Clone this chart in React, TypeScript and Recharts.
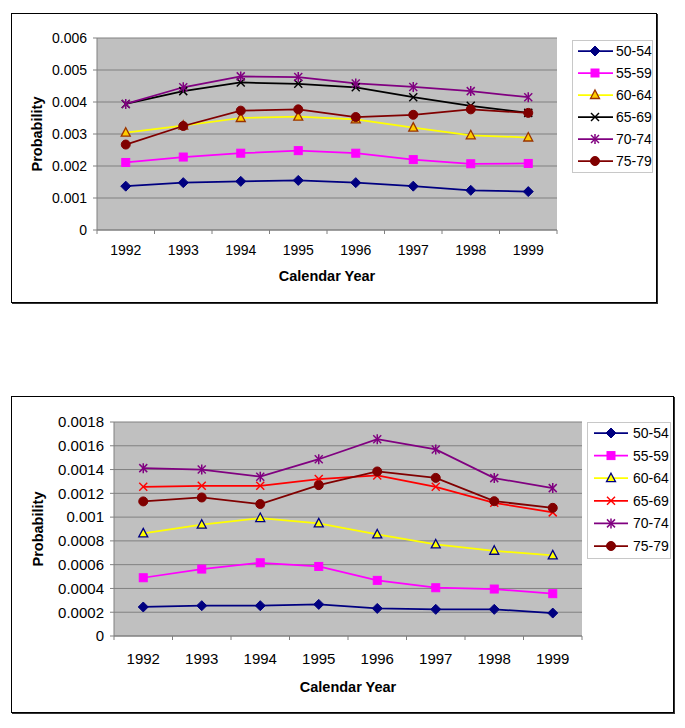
import React from 'react';
import { LineChart, Line, XAxis, YAxis, CartesianGrid, Legend } from 'recharts';

const years = ['1992', '1993', '1994', '1995', '1996', '1997', '1998', '1999'];
const seriesNames = ['50-54', '55-59', '60-64', '65-69', '70-74', '75-79'];

// Top chart values
const top5054 = [0.00137, 0.00148, 0.00152, 0.00155, 0.00148, 0.00137, 0.00124, 0.0012];
const top5559 = [0.00211, 0.00228, 0.0024, 0.00248, 0.0024, 0.0022, 0.00207, 0.00208];
const top6064 = [0.00304, 0.00326, 0.0035, 0.00354, 0.00346, 0.0032, 0.00296, 0.00289];
const top6569 = [0.00394, 0.00434, 0.00461, 0.00457, 0.00446, 0.00415, 0.00388, 0.00366];
const top7074 = [0.00394, 0.00446, 0.0048, 0.00478, 0.00458, 0.00447, 0.00434, 0.00415];
const top7579 = [0.00267, 0.00325, 0.00373, 0.00377, 0.00353, 0.0036, 0.00377, 0.00366];

// Bottom chart values
const bot5054 = [0.000244, 0.000255, 0.000255, 0.000266, 0.000232, 0.000224, 0.000224, 0.000193];
const bot5559 = [0.00049, 0.000563, 0.000616, 0.000585, 0.000468, 0.000406, 0.000395, 0.000356];
const bot6064 = [0.000863, 0.000936, 0.000992, 0.000947, 0.000854, 0.00077, 0.000717, 0.000678];
const bot6569 = [0.001255, 0.001263, 0.001263, 0.00132, 0.00135, 0.001255, 0.00112, 0.00104];
const bot7074 = [0.001412, 0.0014, 0.00134, 0.001487, 0.001655, 0.001569, 0.001328, 0.001244];
const bot7579 = [0.001132, 0.001165, 0.00111, 0.001269, 0.001384, 0.00133, 0.001134, 0.001078];

const topTicks = [0, 0.001, 0.002, 0.003, 0.004, 0.005, 0.006];
const bottomTicks = [0, 0.0002, 0.0004, 0.0006, 0.0008, 0.001, 0.0012, 0.0014, 0.0016, 0.0018];

const FONT = '"Liberation Sans", Arial, sans-serif';

type Shape = 'diamond' | 'square' | 'triangle' | 'x' | 'star' | 'circle';
interface SeriesStyle {
  name: string;
  color: string;
  shape: Shape;
  fill: string;
  stroke: string;
}

const topStyles: SeriesStyle[] = [
  { name: '50-54', color: '#000080', shape: 'diamond', fill: '#000080', stroke: '#000080' },
  { name: '55-59', color: '#FF00FF', shape: 'square', fill: '#FF00FF', stroke: '#FF00FF' },
  { name: '60-64', color: '#FFFF00', shape: 'triangle', fill: '#FFCC00', stroke: '#993300' },
  { name: '65-69', color: '#000000', shape: 'x', fill: 'none', stroke: '#000000' },
  { name: '70-74', color: '#800080', shape: 'star', fill: 'none', stroke: '#800080' },
  { name: '75-79', color: '#800000', shape: 'circle', fill: '#800000', stroke: '#800000' },
];

const bottomStyles: SeriesStyle[] = [
  { name: '50-54', color: '#000080', shape: 'diamond', fill: '#000080', stroke: '#000080' },
  { name: '55-59', color: '#FF00FF', shape: 'square', fill: '#FF00FF', stroke: '#FF00FF' },
  { name: '60-64', color: '#FFFF00', shape: 'triangle', fill: '#FFFF00', stroke: '#000080' },
  { name: '65-69', color: '#FF0000', shape: 'x', fill: 'none', stroke: '#FF0000' },
  { name: '70-74', color: '#800080', shape: 'star', fill: 'none', stroke: '#800080' },
  { name: '75-79', color: '#800000', shape: 'circle', fill: '#800000', stroke: '#800000' },
];

function buildRows(values: number[][]) {
  return years.map((y, i) => {
    const row: Record<string, any> = { year: y };
    seriesNames.forEach((n, k) => {
      row[n] = values[k][i];
    });
    return row;
  });
}

const topData = buildRows([top5054, top5559, top6064, top6569, top7074, top7579]);
const bottomData = buildRows([bot5054, bot5559, bot6064, bot6569, bot7074, bot7579]);

function Marker({ shape, cx, cy, fill, stroke }: { shape: Shape; cx: number; cy: number; fill: string; stroke: string }) {
  switch (shape) {
    case 'diamond':
      return <polygon points={`${cx},${cy - 5} ${cx + 5},${cy} ${cx},${cy + 5} ${cx - 5},${cy}`} fill={fill} stroke={stroke} strokeWidth={1} />;
    case 'square':
      return <rect x={cx - 4} y={cy - 4} width={8} height={8} fill={fill} stroke={stroke} strokeWidth={1} />;
    case 'triangle':
      return <polygon points={`${cx},${cy - 5} ${cx + 4.5},${cy + 3.5} ${cx - 4.5},${cy + 3.5}`} fill={fill} stroke={stroke} strokeWidth={1.3} />;
    case 'x':
      return (
        <g stroke={stroke} strokeWidth={1.5}>
          <line x1={cx - 4} y1={cy - 4} x2={cx + 4} y2={cy + 4} />
          <line x1={cx - 4} y1={cy + 4} x2={cx + 4} y2={cy - 4} />
        </g>
      );
    case 'star':
      return (
        <g stroke={stroke} strokeWidth={1.5}>
          <line x1={cx - 4} y1={cy - 4} x2={cx + 4} y2={cy + 4} />
          <line x1={cx - 4} y1={cy + 4} x2={cx + 4} y2={cy - 4} />
          <line x1={cx} y1={cy - 5} x2={cx} y2={cy + 5} />
        </g>
      );
    case 'circle':
    default:
      return <circle cx={cx} cy={cy} r={4.5} fill={fill} stroke={stroke} strokeWidth={1} />;
  }
}

function makeCategoryTick(labelOffset: number, fontSize: number) {
  return (props: any) => {
    const { x, y, payload, index } = props;
    const half = payload && payload.offset ? payload.offset : 0;
    return (
      <g>
        <line x1={x - half} x2={x - half} y1={y} y2={y + 4} stroke="#808080" />
        {index === years.length - 1 && <line x1={x + half} x2={x + half} y1={y} y2={y + 4} stroke="#808080" />}
        <text x={x} y={y + labelOffset} textAnchor="middle" dominantBaseline="central" fontSize={fontSize} fontFamily={FONT} fill="#000">
          {payload.value}
        </text>
      </g>
    );
  };
}

function makeLegend(styles: SeriesStyle[], box: { left: number; top: number; width: number; height: number }, rowH: number, firstY: number, lineX1: number, lineX2: number, markX: number, textX: number) {
  return (props: any) => {
    const payload = props.payload || [];
    return (
      <div
        style={{
          position: 'absolute',
          left: 0,
          top: 0,
          width: box.width,
          height: box.height,
          background: '#fff',
          border: '1px solid #c8c8c8',
          boxSizing: 'border-box',
        }}
      >
        <svg width={box.width - 2} height={box.height - 2} style={{ display: 'block' }}>
          {payload.map((entry: any, i: number) => {
            const st = styles.find((s) => s.name === entry.value) || styles[i];
            const cy = firstY + i * rowH;
            return (
              <g key={entry.value}>
                <line x1={lineX1} x2={lineX2} y1={cy} y2={cy} stroke={st.color} strokeWidth={1.75} />
                <Marker shape={st.shape} cx={markX} cy={cy} fill={st.fill} stroke={st.stroke} />
                <text x={textX} y={cy} dominantBaseline="central" fontSize={14} fontFamily={FONT} fill="#000">
                  {entry.value}
                </text>
              </g>
            );
          })}
        </svg>
      </div>
    );
  };
}

function ProbLabel(xOffset: number, fontSize: number) {
  return (props: any) => {
    const vb = props.viewBox || { x: 0, y: 0, width: 0, height: 0 };
    const x = vb.x + xOffset;
    const y = vb.y + vb.height / 2;
    return (
      <text
        x={x}
        y={y}
        transform={`rotate(-90, ${x}, ${y})`}
        textAnchor="middle"
        dominantBaseline="central"
        fontSize={fontSize}
        fontWeight="bold"
        fontFamily={FONT}
        fill="#000"
      >
        Probability
      </text>
    );
  };
}

function YearLabel(yOffset: number, fontSize: number) {
  return (props: any) => {
    const vb = props.viewBox || { x: 0, y: 0, width: 0, height: 0 };
    return (
      <text
        x={vb.x + vb.width / 2}
        y={vb.y + yOffset}
        textAnchor="middle"
        dominantBaseline="central"
        fontSize={fontSize}
        fontWeight="bold"
        fontFamily={FONT}
        fill="#000"
      >
        Calendar Year
      </text>
    );
  };
}

interface PanelProps {
  data: any[];
  styles: SeriesStyle[];
  ticks: number[];
  width: number;
  height: number;
  margin: { top: number; right: number; left: number; bottom: number };
  yWidth: number;
  xHeight: number;
  tickFont: number;
  xLabelOffset: number;
  titleOffset: number;
  probOffset: number;
  legendBox: { left: number; top: number; width: number; height: number };
  legendRow: number;
  legendFirst: number;
  legendLine: [number, number, number, number];
}

function Panel(p: PanelProps) {
  const max = p.ticks[p.ticks.length - 1];
  return (
    <LineChart width={p.width} height={p.height} data={p.data} margin={p.margin} style={{ fontFamily: FONT }}>
      <CartesianGrid vertical={false} stroke="#808080" fill="#C0C0C0" fillOpacity={1} yAxisId="left" />
      <XAxis
        dataKey="year"
        scale="band"
        height={p.xHeight}
        tickSize={0}
        tickMargin={0}
        tickLine={false}
        axisLine={{ stroke: '#808080' }}
        interval={0}
        tick={makeCategoryTick(p.xLabelOffset, p.tickFont)}
        label={{ content: YearLabel(p.titleOffset, 14.5) }}
      />
      <YAxis
        yAxisId="left"
        width={p.yWidth}
        domain={[0, max]}
        ticks={p.ticks}
        interval={0}
        tickSize={4}
        tickMargin={6}
        tickLine={{ stroke: '#808080' }}
        axisLine={{ stroke: '#808080' }}
        tick={{ fill: '#000', fontSize: p.tickFont, fontFamily: FONT }}
        tickFormatter={(v: number) => String(v)}
        label={{ content: ProbLabel(p.probOffset, 14.5) }}
      />
      <YAxis
        yAxisId="right"
        orientation="right"
        width={0}
        domain={[0, max]}
        tick={false}
        tickLine={false}
        axisLine={{ stroke: '#808080' }}
      />
      <Legend
        layout="vertical"
        align="center"
        verticalAlign="middle"
        wrapperStyle={{ position: 'absolute', left: p.legendBox.left, top: p.legendBox.top, width: p.legendBox.width, height: p.legendBox.height }}
        content={makeLegend(p.styles, p.legendBox, p.legendRow, p.legendFirst, p.legendLine[0], p.legendLine[1], p.legendLine[2], p.legendLine[3])}
      />
      {p.styles.map((s) => (
        <Line
          key={s.name}
          yAxisId="left"
          type="linear"
          dataKey={s.name}
          name={s.name}
          stroke={s.color}
          strokeWidth={1.75}
          isAnimationActive={false}
          dot={(dp: any) => <Marker key={`${s.name}-${dp.index}`} shape={s.shape} cx={dp.cx} cy={dp.cy} fill={s.fill} stroke={s.stroke} />}
          activeDot={false}
        />
      ))}
    </LineChart>
  );
}

export default function App() {
  return (
    <div style={{ position: 'relative', width: 669, height: 712, fontFamily: FONT }}>
      <div
        style={{
          position: 'absolute',
          left: 3,
          top: 5,
          width: 644,
          height: 288,
          border: '1px solid #000',
          boxShadow: '1px 1px 0 #333',
          background: '#fff',
        }}
      >
        <Panel
          data={topData}
          styles={topStyles}
          ticks={topTicks}
          width={644}
          height={288}
          margin={{ top: 24, right: 99, left: 0, bottom: 0 }}
          yWidth={85}
          xHeight={72}
          tickFont={14}
          xLabelOffset={20}
          titleOffset={46}
          probOffset={25}
          legendBox={{ left: 560, top: 26, width: 81, height: 133 }}
          legendRow={22}
          legendFirst={10}
          legendLine={[5, 40, 22, 43]}
        />
      </div>
      <div
        style={{
          position: 'absolute',
          left: 3,
          top: 388,
          width: 661,
          height: 315,
          border: '1px solid #000',
          boxShadow: '1px 1px 0 #333',
          background: '#fff',
        }}
      >
        <Panel
          data={bottomData}
          styles={bottomStyles}
          ticks={bottomTicks}
          width={661}
          height={315}
          margin={{ top: 25, right: 91, left: 0, bottom: 0 }}
          yWidth={102}
          xHeight={76}
          tickFont={15}
          xLabelOffset={22}
          titleOffset={51}
          probOffset={26}
          legendBox={{ left: 575, top: 25, width: 84, height: 137 }}
          legendRow={22.6}
          legendFirst={10}
          legendLine={[6, 40, 23, 45]}
        />
      </div>
    </div>
  );
}
